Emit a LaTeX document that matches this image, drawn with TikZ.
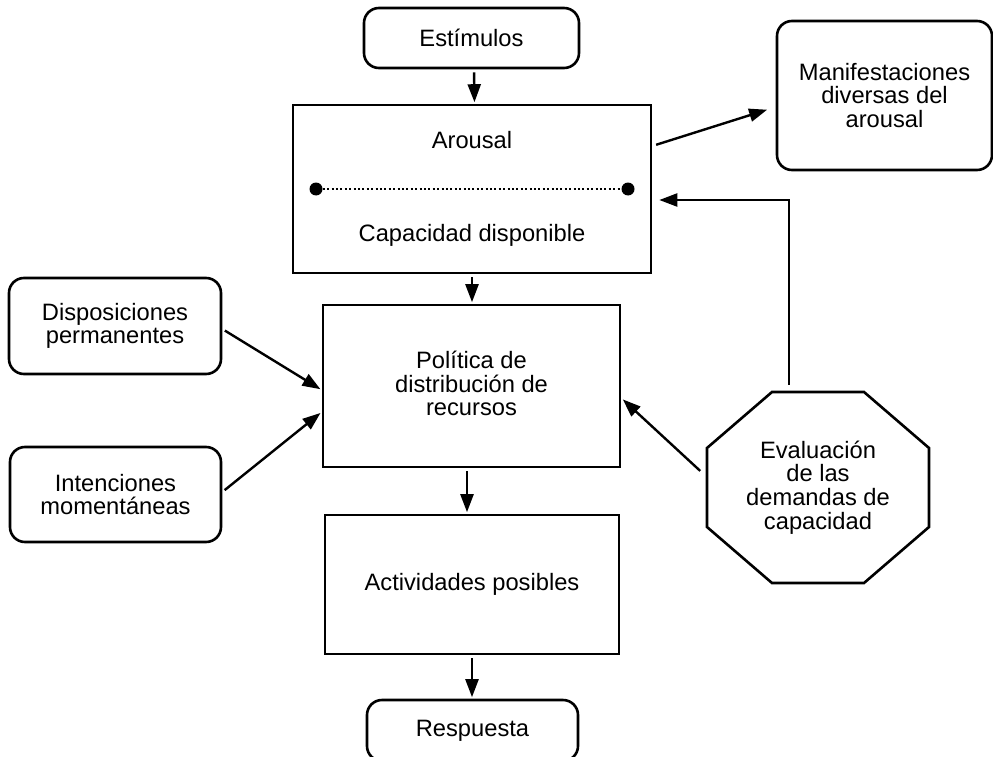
\documentclass[tikz,border=0pt]{standalone}
\usepackage{fontspec}
\setmainfont{Liberation Sans}
\usetikzlibrary{arrows.meta,calc}
\begin{document}
\begin{tikzpicture}[x=1pt,y=-1pt,
  every node/.style={font=\fontsize{23.7}{23.6}\selectfont, align=center, inner sep=0pt},
  box/.style={draw, line width=2.6pt, rectangle},
  rbox/.style={box, rounded corners=15pt},
  conn/.style={line width=2.4pt, -{Triangle[length=18pt,width=13pt]},
               shorten <=3pt, shorten >=1.5pt},
  dot/.style={circle, fill, minimum size=13pt}
]
\useasboundingbox (0,0) rectangle (993,757);

% boxes
\node[rbox, minimum width=215pt, minimum height=60pt] (estim) at (471.5,38) {Estímulos};
\node[box, minimum width=358pt, minimum height=168pt] (arousal) at (472,189) {};
\node (arousaltxt) at (472,140) {Arousal};
\node (captxt) at (472,235) {Capacidad disponible};
\node[rbox, minimum width=215pt, minimum height=149pt] (manif) at (884.5,95.5)
  {Manifestaciones\\diversas del\\arousal};
\node[rbox, minimum width=212pt, minimum height=96pt] (disp) at (115,326)
  {Disposiciones\\permanentes};
\node[rbox, minimum width=211pt, minimum height=95pt] (inten) at (115.5,494.5)
  {Intenciones\\momentáneas};
\node[box, minimum width=297pt, minimum height=162pt] (pol) at (471.5,386) {};
\node (poltxt) at (471.5,383.5) {Política de\\distribución de\\recursos};
\node[box, minimum width=294pt, minimum height=139pt] (act) at (472,584.5)
  {Actividades posibles};
\node[rbox, minimum width=211pt, minimum height=61pt] (resp) at (472.5,730.5)
  {\raisebox{3.5pt}{Respuesta}};

% octagon
\node[minimum width=222pt, minimum height=191pt] (oct) at (818,487.5)
  {Evaluación\\de las\\demandas de\\capacidad};
\draw[line width=2.6pt]
  ($(oct.center)+(-46,-95.5)$) -- ($(oct.center)+(46,-95.5)$) --
  ($(oct.center)+(111,-39.5)$) -- ($(oct.center)+(111,39.5)$) --
  ($(oct.center)+(46,95.5)$) -- ($(oct.center)+(-46,95.5)$) --
  ($(oct.center)+(-111,39.5)$) -- ($(oct.center)+(-111,-39.5)$) -- cycle;

% arousal / capacity scale
\node[dot] (dl) at ($(arousal.center)+(-156,0)$) {};
\node[dot] (dr) at ($(arousal.center)+(156,0)$) {};
\draw[line width=2pt, dash pattern=on 2pt off 2.4pt] (dl) -- (dr);

% connectors
\draw[conn] ([xshift=2.5pt]estim.south) -- ([xshift=2.5pt]arousal.north);
\draw[conn] (arousal.south) -- (arousal.south |- pol.north);
\draw[conn] ([xshift=-4.5pt]pol.south) -- ([xshift=-4.5pt]pol.south |- act.north);
\draw[conn] (act.south) -- (act.south |- resp.north);
\draw[conn, shorten <=4pt, shorten >=9pt] ([yshift=43pt]arousal.east) -- ([yshift=-11.5pt]manif.west);
\draw[conn] ([yshift=-3pt]disp.east) -- ([yshift=-4pt]pol.west);
\draw[conn] ([yshift=2.5pt]inten.east) -- ([yshift=-26pt]pol.west);
\draw[conn, shorten <=9pt, shorten >=2pt] ([yshift=10.5pt]oct.west) -- ([yshift=-12pt]pol.east);
\draw[conn, shorten <=0pt, shorten >=7pt] ([xshift=-29pt,yshift=7pt]oct.north) |- ([yshift=-11pt]arousal.east);
\end{tikzpicture}
\end{document}
